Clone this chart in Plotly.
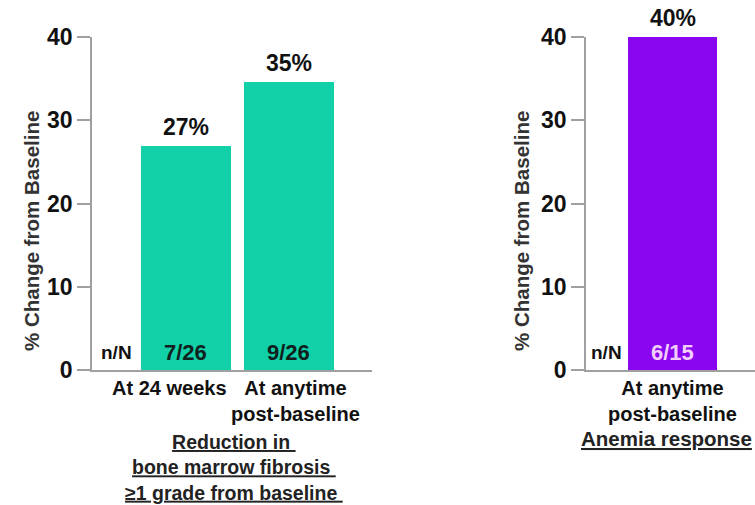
import plotly.graph_objects as go

# ---- data ----
left_categories = ["At 24 weeks", "At anytime<br>post-baseline"]
left_values = [26.9, 34.6]
left_pct_labels = ["27%", "35%"]
left_nN = ["7/26", "9/26"]

right_categories = ["At anytime<br>post-baseline"]
right_values = [40.0]
right_pct_labels = ["40%"]
right_nN = ["6/15"]

y_ticks = [0, 10, 20, 30, 40]
left_title = "Reduction in\u00a0<br>bone marrow fibrosis\u00a0<br>≥1 grade from baseline\u00a0"
right_title = "Anemia response"
y_title = "% Change from Baseline"

TEAL = "#12d0a8"
PURPLE = "#8a05f0"
FONT = "Liberation Sans, Arial, sans-serif"
AXC = "#a0a0a0"

W, H = 755, 505
BAR_W_L = 0.874
BAR_W_R = 0.864

fig = go.Figure()
lx = list(range(len(left_categories)))
rx = list(range(len(right_categories)))

fig.add_trace(go.Bar(x=lx, y=left_values, width=BAR_W_L, marker_color=TEAL,
                     marker_line_width=0, xaxis="x", yaxis="y", showlegend=False,
                     hoverinfo="skip"))
fig.add_trace(go.Bar(x=rx, y=right_values, width=BAR_W_R, marker_color=PURPLE,
                     marker_line_width=0, xaxis="x2", yaxis="y2", showlegend=False,
                     hoverinfo="skip"))

ydom = [1 - 370 / H, 1 - 37 / H]
yax = dict(range=[0, 40], tickvals=y_ticks, showline=True, linecolor=AXC, linewidth=1.5,
           ticks="outside", ticklen=13, tickcolor=AXC, tickwidth=1.5,
           tickfont=dict(family=FONT, size=23, color="#111", weight="bold"), showgrid=False,
           zeroline=False, domain=ydom, fixedrange=True)
xax_common = dict(showline=True, linecolor=AXC, linewidth=1.5, showticklabels=False,
                  ticks="", showgrid=False, zeroline=False, fixedrange=True)

fig.update_layout(
    width=W, height=H, margin=dict(l=0, r=0, t=0, b=0, autoexpand=False),
    paper_bgcolor="white", plot_bgcolor="white",
    xaxis=dict(domain=[92 / W, 372 / W], range=[-0.9126, 1.806], anchor="y", **xax_common),
    yaxis=dict(anchor="x", **yax),
    xaxis2=dict(domain=[586 / W, 1.0], range=[-0.84, 0.801], anchor="y2", **xax_common),
    yaxis2=dict(anchor="x2", **yax),
)

ann = []
def add_panel(xref, yref, cats, vals, pcts, nns, bw, nN_shift, cat_shifts, pct_color, nn_color):
    for i, (c, v, p, n) in enumerate(zip(cats, vals, pcts, nns)):
        ann.append(dict(x=i, y=v, xref=xref, yref=yref, text=f"<b>{p}</b>", showarrow=False,
                        yanchor="bottom", yshift=4,
                        font=dict(family=FONT, size=23, color=pct_color)))
        ann.append(dict(x=i, y=0, xref=xref, yref=yref, text=f"<b>{n}</b>", showarrow=False,
                        yanchor="middle", yshift=18,
                        font=dict(family=FONT, size=22, color=nn_color)))
        ann.append(dict(x=i, y=0, xref=xref, yref=yref, text=f"<b>{c}</b>", showarrow=False,
                        yanchor="top", yshift=-5, xshift=cat_shifts[i],
                        font=dict(family=FONT, size=20, color="#111")))
    ann.append(dict(x=-bw / 2, y=0, xref=xref, yref=yref, text="<b>n/N</b>", showarrow=False,
                    xanchor="right", yanchor="middle", yshift=18, xshift=nN_shift,
                    font=dict(family=FONT, size=19, color="#111")))

add_panel("x", "y", left_categories, left_values, left_pct_labels, left_nN, BAR_W_L, -7,
          [-16, 7], "#111", "#10201c")
add_panel("x2", "y2", right_categories, right_values, right_pct_labels, right_nN, BAR_W_R, -4,
          [0], "#111", "#f3cdfc")

# y-axis titles
for xp in [32, 522]:
    ann.append(dict(x=xp / W, y=1 - 231 / H, xref="paper", yref="paper", text=f"<b>{y_title}</b>",
                    textangle=-90, showarrow=False, xanchor="center", yanchor="middle",
                    font=dict(family=FONT, size=20.5, color="#333")))

# group titles
ann.append(dict(x=234 / W, y=1 - 429 / H, xref="paper", yref="paper",
                text=f"<b><u>{left_title}</u></b>".replace("<br>", "</u><br><u>"),
                showarrow=False, xanchor="center", yanchor="top",
                font=dict(family=FONT, size=19.5, color="#222")))
ann.append(dict(x=666 / W, y=1 - 438 / H, xref="paper", yref="paper",
                text=f"<b><u>{right_title}</u></b>", showarrow=False,
                xanchor="center", yanchor="middle",
                font=dict(family=FONT, size=20.5, color="#222")))

fig.update_layout(annotations=ann)
fig.write_html("out.html")
